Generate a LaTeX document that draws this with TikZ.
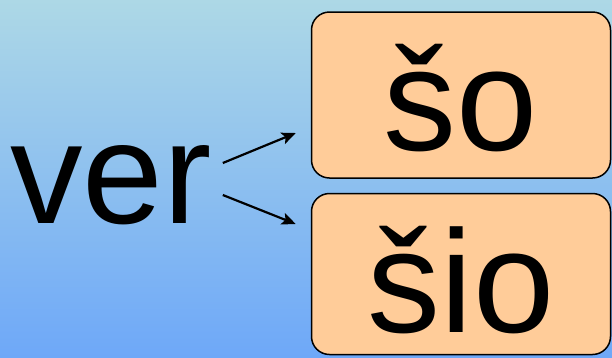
\documentclass[tikz,border=0pt]{standalone}
\usepackage{fontspec}
\setmainfont{Liberation Sans}
\usetikzlibrary{arrows.meta}
\definecolor{bgtop}{RGB}{173,216,230}
\definecolor{bgbot}{RGB}{110,168,248}
\definecolor{boxfill}{RGB}{255,204,153}
\begin{document}
\begin{tikzpicture}[x=1pt,y=-1pt,
  bigtext/.style={font=\fontsize{145}{145}\selectfont, inner sep=0pt},
  wordbox/.style={draw=black, line width=1.5pt, fill=boxfill, rounded corners=18pt,
    minimum width=299pt, inner sep=0pt, font=\fontsize{146}{146}\selectfont, text depth=0pt},
  arr/.style={line width=2.2pt, -{Stealth[length=14pt,width=12pt,inset=3pt]}}]
\useasboundingbox (0,0) rectangle (612,357);
\shade[top color=bgtop, bottom color=bgbot] (0,0) rectangle (612,357);
\node[bigtext, anchor=base west, text height=88pt, text depth=0pt] (ver) at (10,223) {ver};
\node[wordbox, minimum height=166pt, text height=110pt] (so) at (461,95) {šo};
\node[wordbox, minimum height=161pt, text height=116pt] (sio) at (461,274) {šio};
\draw[arr] ([xshift=11pt,yshift=16pt]ver.east) -- ([xshift=-15pt,yshift=-38pt]so.west);
\draw[arr] ([xshift=11pt,yshift=-16pt]ver.east) -- ([xshift=-15pt,yshift=50pt]sio.west);
\end{tikzpicture}
\end{document}
